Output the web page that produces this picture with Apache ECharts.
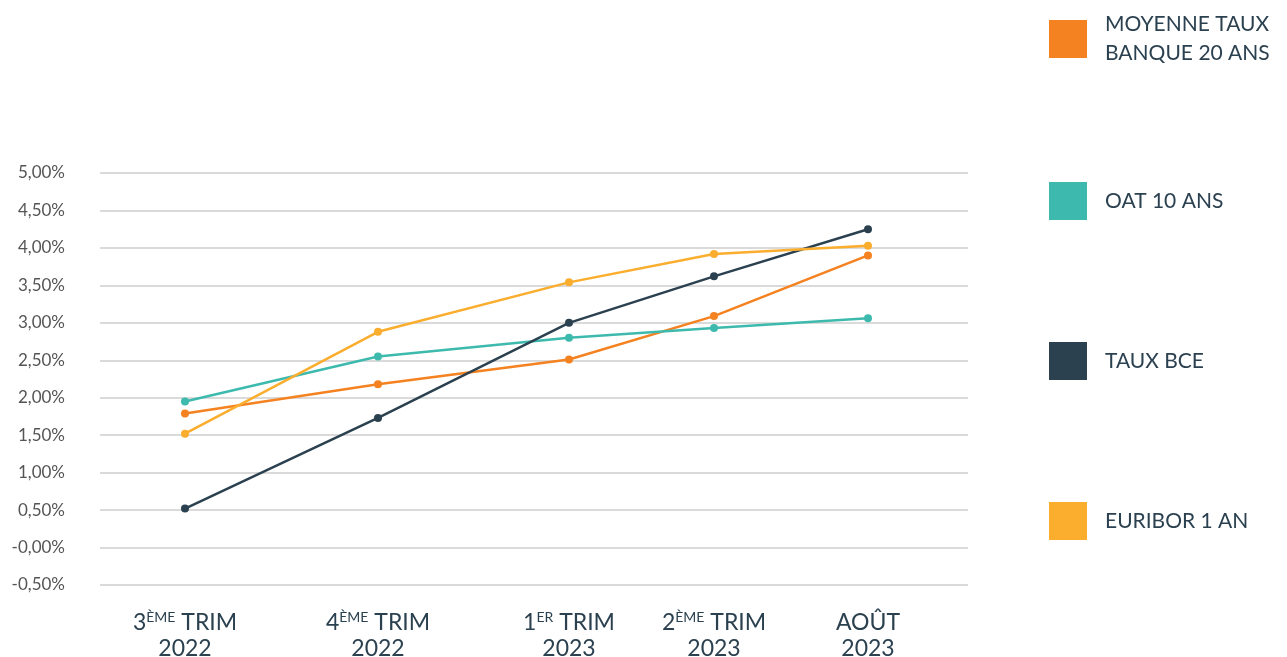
<!DOCTYPE html>
<html>
<head>
<meta charset="utf-8">
<script src="https://cdn.jsdelivr.net/npm/echarts@6/dist/echarts.min.js"></script>
<style>
  html, body { margin: 0; padding: 0; background: #fff; }
  #chart { width: 1287px; height: 657px; }
</style>
</head>
<body>
<div id="chart"></div>
<script>
// Period positions along the horizontal axis (uneven spacing between periods)
const periodPos = [0.85, 2.78, 4.69, 6.14, 7.68];
const periodLabels = [
  '3{sup|ÈME} TRIM\n2022',
  '4{sup|ÈME} TRIM\n2022',
  '1{sup|ER} TRIM\n2023',
  '2{sup|ÈME} TRIM\n2023',
  'AOÛT\n2023'
];

// Rates in %
const moyenneTaux = [1.79, 2.18, 2.51, 3.09, 3.90];
const oat10 = [1.95, 2.55, 2.80, 2.93, 3.06];
const tauxBce = [0.52, 1.73, 3.00, 3.62, 4.25];
const euribor1 = [1.52, 2.88, 3.54, 3.92, 4.03];

const yTicks = [-0.5, 0, 0.5, 1, 1.5, 2, 2.5, 3, 3.5, 4, 4.5, 5];
const yTickLabels = ['-0,50%', '-0,00%', '0,50%', '1,00%', '1,50%', '2,00%', '2,50%', '3,00%', '3,50%', '4,00%', '4,50%', '5,00%'];

const seriesDefs = [
  { name: 'MOYENNE TAUX\nBANQUE 20 ANS', data: moyenneTaux, color: '#F58220' },
  { name: 'OAT 10 ANS', data: oat10, color: '#3DBAAD' },
  { name: 'TAUX BCE', data: tauxBce, color: '#2B4150' },
  { name: 'EURIBOR 1 AN', data: euribor1, color: '#FBAD2E' }
];

const legendTops = [5, 177, 337, 497];

const chart = echarts.init(document.getElementById('chart'));
chart.setOption({
  animation: false,
  backgroundColor: '#ffffff',
  grid: { left: 100, right: 319, top: 173, bottom: 72, outerBoundsMode: 'none', containLabel: false },
  legend: seriesDefs.map((s, i) => ({
    data: [s.name],
    left: 1044,
    top: legendTops[i],
    orient: 'vertical',
    icon: 'rect',
    itemWidth: 38,
    itemHeight: 38,
    itemGap: 0,
    selectedMode: false,
    textStyle: {
      fontFamily: 'Lato',
      fontSize: 21,
      lineHeight: 29,
      color: '#2B4150',
      padding: [0, 0, 0, 13]
    }
  })),
  xAxis: {
    type: 'value',
    min: 0,
    max: 8.68,
    splitLine: { show: false },
    axisLine: { show: false },
    axisTick: { show: false },
    axisLabel: {
      customValues: periodPos,
      formatter: (v) => {
        const i = periodPos.findIndex(p => Math.abs(p - v) < 1e-6);
        return i >= 0 ? periodLabels[i] : '';
      },
      margin: 25,
      fontFamily: 'Lato',
      fontSize: 23,
      lineHeight: 26,
      color: '#2B4150',
      rich: {
        sup: { fontFamily: 'Lato', fontSize: 14, lineHeight: 26, verticalAlign: 'top', padding: [0, 0, 10, 0], color: '#2B4150' }
      }
    }
  },
  yAxis: {
    type: 'value',
    min: -0.5,
    max: 5,
    interval: 0.5,
    axisLine: { show: false },
    axisTick: { show: false },
    splitLine: { lineStyle: { color: '#DADADA', width: 2 } },
    axisLabel: {
      margin: 35,
      fontFamily: 'Lato',
      fontSize: 17,
      color: '#555555',
      formatter: (v) => {
        const i = yTicks.findIndex(t => Math.abs(t - v) < 1e-6);
        return i >= 0 ? yTickLabels[i] : '';
      }
    }
  },
  series: seriesDefs.map(s => ({
    name: s.name,
    type: 'line',
    data: s.data.map((v, i) => [periodPos[i], v]),
    color: s.color,
    symbol: 'circle',
    symbolSize: 8,
    lineStyle: { width: 2.5, color: s.color },
    itemStyle: { color: s.color }
  }))
});
</script>
</body>
</html>
